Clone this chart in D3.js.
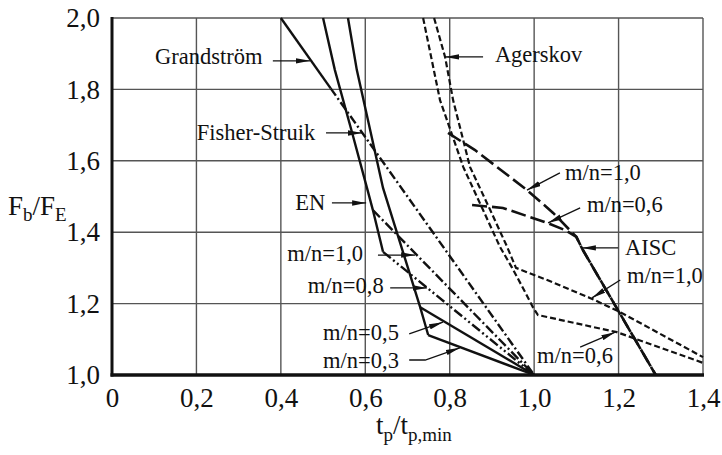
<!DOCTYPE html>
<html lang="de">
<head>
<meta charset="UTF-8">
<title>Fb/FE</title>
<script src="https://d3js.org/d3.v7.min.js"></script>
<style>
    body { margin: 0; background: #fff; }
    svg { display: block; }
</style>
</head>
<body>
<div id="chart"></div>
<script>
    // achsen
    var xTicks = [0, 0.2, 0.4, 0.6, 0.8, 1.0, 1.2, 1.4];
    var yTicks = [1.0, 1.2, 1.4, 1.6, 1.8, 2.0];

    // kurven [tp/tp,min, Fb/FE]
    var grandstrom   = [[0.400, 2.000], [0.518, 1.803]];
    var fisherStruik = [[0.518, 1.803], [1.000, 1.000]];
    var enUpper = [[0.500, 2.000], [0.528, 1.854], [0.569, 1.678], [0.604, 1.524], [0.618, 1.462], [0.642, 1.345]];
    var enMn10  = [[0.618, 1.462], [1.000, 1.000]];
    var enMn08  = [[0.642, 1.345], [1.000, 1.000]];
    var enLower = [[0.559, 2.000], [0.580, 1.854], [0.642, 1.524], [0.730, 1.190], [0.749, 1.112]];
    var enMn05  = [[0.730, 1.190], [1.000, 1.000]];
    var enMn03  = [[0.749, 1.112], [1.000, 1.000]];
    var agerskovMn06 = [[0.737, 2.000], [0.777, 1.770], [0.832, 1.583], [0.879, 1.462], [0.919, 1.359],
                        [0.948, 1.300], [0.976, 1.238], [0.997, 1.190], [1.009, 1.168], [1.196, 1.120], [1.400, 1.034]];
    var agerskovMn10 = [[0.763, 2.000], [0.789, 1.891], [0.808, 1.770], [0.848, 1.583], [0.896, 1.462],
                        [0.936, 1.359], [0.957, 1.300], [1.031, 1.266], [1.132, 1.216], [1.204, 1.176], [1.400, 1.050]];
    var aiscMn10 = [[0.796, 1.678], [0.860, 1.630], [0.983, 1.518], [1.045, 1.454], [1.100, 1.387], [1.114, 1.353], [1.288, 1.000]];
    var aiscMn06 = [[0.853, 1.476], [0.926, 1.468], [1.031, 1.426], [1.073, 1.406], [1.100, 1.387], [1.114, 1.353], [1.288, 1.000]];

    // beschriftungen: text, position, pfeil (letzter punkt = spitze)
    var labels = [
        { t: "Grandström",    p: [0.102, 1.871], a: [[0.381, 1.880], [0.469, 1.880]] },
        { t: "Fisher-Struik", p: [0.201, 1.658], a: [[0.507, 1.678], [0.592, 1.678]] },
        { t: "EN",            p: [0.434, 1.462], a: [[0.521, 1.482], [0.602, 1.482]] },
        { t: "m/n=1,0",       p: [0.415, 1.319], a: [[0.630, 1.336], [0.718, 1.336]] },
        { t: "m/n=0,8",       p: [0.464, 1.230], a: [[0.659, 1.244], [0.746, 1.244]] },
        { t: "m/n=0,5",       p: [0.500, 1.098], a: [[0.704, 1.115], [0.784, 1.148]] },
        { t: "m/n=0,3",       p: [0.500, 1.020], a: [[0.704, 1.042], [0.742, 1.042], [0.824, 1.076]] },
        { t: "Agerskov",      p: [0.907, 1.877], a: [[0.879, 1.891], [0.789, 1.891]] },
        { t: "m/n=1,0",       p: [1.073, 1.546], a: [[1.061, 1.566], [0.983, 1.518]] },
        { t: "m/n=0,6",       p: [1.125, 1.457], a: [[1.109, 1.468], [1.033, 1.426]] },
        { t: "AISC",          p: [1.215, 1.336], a: [[1.199, 1.356], [1.113, 1.356]] },
        { t: "m/n=1,0",       p: [1.220, 1.258], a: [[1.204, 1.266], [1.137, 1.216]] },
        { t: "m/n=0,6",       p: [1.007, 1.034], a: [[1.109, 1.078], [1.192, 1.120]] }
    ];

    var series = [
        { d: grandstrom,   dash: null,                w: 2.4 },
        { d: fisherStruik, dash: "9,3,2,3",           w: 2.4 },
        { d: enUpper,      dash: null,                w: 2.4 },
        { d: enMn10,       dash: "10,3,2,3",          w: 2.4 },
        { d: enMn08,       dash: "10,3,2,3,2,3",      w: 2.4 },
        { d: enLower,      dash: null,                w: 2.4 },
        { d: enMn05,       dash: null,                w: 2.4 },
        { d: enMn03,       dash: null,                w: 2.4 },
        { d: agerskovMn06, dash: "6,3",               w: 2.2 },
        { d: agerskovMn10, dash: "6,3",               w: 2.2 },
        { d: aiscMn06,     dash: "15,5",              w: 2.6 },
        { d: aiscMn10,     dash: "15,5",              w: 2.6 }
    ];

    var serif = "Liberation Serif, DejaVu Serif, serif";
    var x = d3.scaleLinear().domain([0, 1.4]).range([112, 703]);
    var y = d3.scaleLinear().domain([1, 2]).range([375, 18]);

    var fmt = function(v) { return v === 0 ? "0" : d3.format(".1f")(v).replace(".", ","); };

    var svg = d3.select("#chart").append("svg")
        .attr("width", 722)
        .attr("height", 455)
        .style("font-family", serif);

    svg.append("defs").append("marker")
        .attr("id", "arr")
        .attr("markerUnits", "userSpaceOnUse")
        .attr("viewBox", "0 0 14 6")
        .attr("refX", 14).attr("refY", 3)
        .attr("markerWidth", 14).attr("markerHeight", 6)
        .attr("orient", "auto")
        .append("path")
        .attr("d", "M0,0.3 L14,3 L0,5.7 Z")
        .attr("fill", "#111");

    // gitter
    svg.selectAll("line.vg")
        .data(xTicks.slice(1))
        .enter().append("line")
        .attr("class", "vg")
        .attr("x1", function(d) { return x(d); })
        .attr("x2", function(d) { return x(d); })
        .attr("y1", y(1)).attr("y2", y(2))
        .attr("stroke", "#555").attr("stroke-width", 1.4);

    svg.selectAll("line.hg")
        .data(yTicks.slice(1))
        .enter().append("line")
        .attr("class", "hg")
        .attr("x1", x(0)).attr("x2", x(1.4))
        .attr("y1", function(d) { return y(d); })
        .attr("y2", function(d) { return y(d); })
        .attr("stroke", "#555").attr("stroke-width", 1.4);

    // achsenbeschriftung
    var xAxis = svg.append("g")
        .attr("transform", "translate(0," + y(1) + ")")
        .call(d3.axisBottom(x).tickValues(xTicks).tickFormat(fmt).tickSize(0).tickPadding(13));
    var yAxis = svg.append("g")
        .attr("transform", "translate(" + x(0) + ",0)")
        .call(d3.axisLeft(y).tickValues(yTicks).tickFormat(fmt).tickSize(0).tickPadding(12));
    [xAxis, yAxis].forEach(function(g) {
        g.attr("font-family", null).attr("font-size", null);
        g.select(".domain").remove();
        g.selectAll("text")
            .style("font-family", serif)
            .style("font-size", "27px")
            .attr("fill", "#111");
    });

    // kurven
    var line = d3.line()
        .x(function(d) { return x(d[0]); })
        .y(function(d) { return y(d[1]); });

    svg.selectAll("path.curve")
        .data(series)
        .enter().append("path")
        .attr("class", "curve")
        .attr("d", function(s) { return line(s.d); })
        .attr("fill", "none")
        .attr("stroke", "#111")
        .attr("stroke-width", function(s) { return s.w; })
        .attr("stroke-dasharray", function(s) { return s.dash; })
        .attr("stroke-linejoin", "miter");

    // rahmen
    svg.append("line")
        .attr("x1", x(0)).attr("x2", x(0))
        .attr("y1", y(2) - 1).attr("y2", y(1) + 1.5)
        .attr("stroke", "#111").attr("stroke-width", 3);
    svg.append("line")
        .attr("x1", x(0) - 1.5).attr("x2", x(1.4) + 1)
        .attr("y1", y(1)).attr("y2", y(1))
        .attr("stroke", "#111").attr("stroke-width", 3.5);

    // pfeile + texte
    svg.selectAll("path.arrow")
        .data(labels)
        .enter().append("path")
        .attr("class", "arrow")
        .attr("d", function(l) { return line(l.a); })
        .attr("fill", "none")
        .attr("stroke", "#111")
        .attr("stroke-width", 1.3)
        .attr("marker-end", "url(#arr)");

    svg.selectAll("text.lbl")
        .data(labels)
        .enter().append("text")
        .attr("class", "lbl")
        .attr("x", function(l) { return x(l.p[0]); })
        .attr("y", function(l) { return y(l.p[1]); })
        .style("font-size", "22.5px")
        .attr("fill", "#111")
        .text(function(l) { return l.t; });

    // titel
    var yt = svg.append("text")
        .attr("x", 8).attr("y", 215)
        .style("font-size", "27px")
        .attr("fill", "#111");
    yt.append("tspan").text("F");
    yt.append("tspan").attr("dy", 6).style("font-size", "19px").text("b");
    yt.append("tspan").attr("dy", -6).text("/F");
    yt.append("tspan").attr("dy", 6).style("font-size", "19px").text("E");

    var xt = svg.append("text")
        .attr("x", 376).attr("y", 434)
        .style("font-size", "27px")
        .attr("fill", "#111");
    xt.append("tspan").text("t");
    xt.append("tspan").attr("dy", 7).style("font-size", "19px").text("p");
    xt.append("tspan").attr("dy", -7).text("/t");
    xt.append("tspan").attr("dy", 7).style("font-size", "19px").text("p,min");
</script>
</body>
</html>
